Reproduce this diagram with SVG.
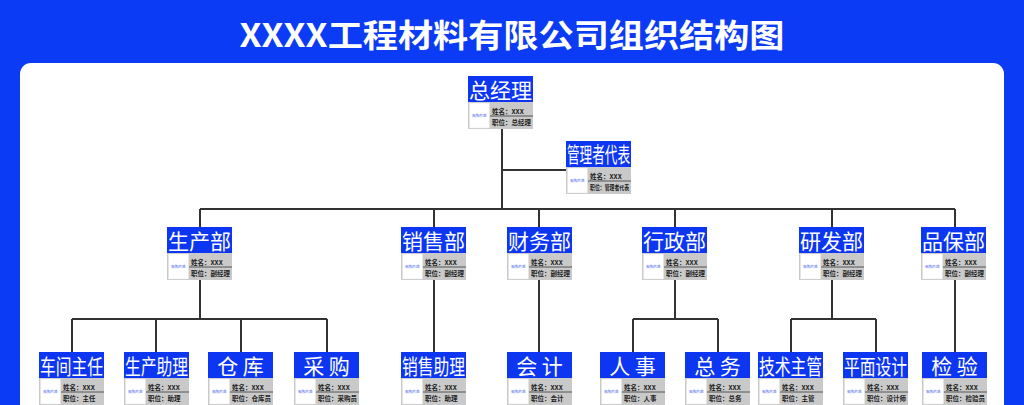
<svg xmlns="http://www.w3.org/2000/svg" width="1024" height="405" viewBox="0 0 1024 405">
<defs>
<style>
.bg{fill:#0b3bf5}
.panel{fill:#ffffff}
.hd{fill:#0d36f2}
.gr{fill:#c9c9c9}
.ph{fill:#ffffff;stroke:#e4e4e4;stroke-width:0.5}
.ht{fill:#ffffff;font-family:"Noto Sans CJK SC","Noto Sans",sans-serif;font-size:21px;text-anchor:middle}
.it{fill:#222222;font-family:"Noto Sans CJK SC","Noto Sans",sans-serif;font-size:6.5px;font-weight:700}
.pt{fill:#2a4cf0;font-family:"Noto Sans CJK SC",sans-serif;font-size:3.6px;text-anchor:middle}
.dv{stroke:#555555;stroke-width:1}
.ln{stroke:#333333;stroke-width:2;fill:none}
.title{fill:#ffffff;font-family:"Noto Sans CJK SC","Noto Sans",sans-serif;font-size:32px;font-weight:700;text-anchor:middle}
</style>
<g id="cardbase">
<rect class="hd" x="0" y="0" width="65" height="26"/>
<rect class="gr" x="0" y="26" width="65" height="27"/>
<rect class="ph" x="1.5" y="27" width="20" height="25"/>
<text class="pt" x="11.5" y="41">贴照片处</text>
<line class="dv" x1="22" y1="40" x2="65" y2="40"/>
<text class="it" x="24" y="37.5">姓名：XXX</text>
</g>
</defs>
<rect class="bg" x="0" y="0" width="1024" height="405"/>
<rect class="panel" x="20" y="63" width="984" height="360" rx="11"/>
<text class="title" x="512" y="47" textLength="545" lengthAdjust="spacingAndGlyphs">XXXX工程材料有限公司组织结构图</text>

<g id="connectors">
<path class="ln" d="M502 129 V209 M502 170 H566 M200 209 H955 M200 209 V228 M434 209 V228 M539 209 V228 M675 209 V228 M832 209 V228 M955 209 V228"/>
<path class="ln" d="M200 280 V319 M72 319 H327 M72 319 V352 M156 319 V352 M241 319 V352 M327 319 V352"/>
<path class="ln" d="M434 280 V352 M539 280 V352"/>
<path class="ln" d="M675 280 V319 M633 319 H718 M633 319 V352 M718 319 V352"/>
<path class="ln" d="M832 280 V319 M791 319 H876 M791 319 V352 M876 319 V352"/>
<path class="ln" d="M955 280 V352"/>
</g>

<g id="n-gm" transform="translate(468,76)"><use href="#cardbase"/><text class="ht" x="32.5" y="21.5">总经理</text><text class="it" x="24" y="49">职位：总经理</text></g>
<g id="n-rep" transform="translate(566,141)"><use href="#cardbase"/><text class="ht" x="32.5" y="21" font-size="18" textLength="63" lengthAdjust="spacingAndGlyphs">管理者代表</text><text class="it" x="24" y="49" font-size="5" textLength="39" lengthAdjust="spacingAndGlyphs">职位：管理者代表</text></g>

<g id="n-prod" transform="translate(167,227)"><use href="#cardbase"/><text class="ht" x="32.5" y="21.5">生产部</text><text class="it" x="24" y="49">职位：副经理</text></g>
<g id="n-sales" transform="translate(401,227)"><use href="#cardbase"/><text class="ht" x="32.5" y="21.5">销售部</text><text class="it" x="24" y="49">职位：副经理</text></g>
<g id="n-fin" transform="translate(507,227)"><use href="#cardbase"/><text class="ht" x="32.5" y="21.5">财务部</text><text class="it" x="24" y="49">职位：副经理</text></g>
<g id="n-admin" transform="translate(642,227)"><use href="#cardbase"/><text class="ht" x="32.5" y="21.5">行政部</text><text class="it" x="24" y="49">职位：副经理</text></g>
<g id="n-rd" transform="translate(799,227)"><use href="#cardbase"/><text class="ht" x="32.5" y="21.5">研发部</text><text class="it" x="24" y="49">职位：副经理</text></g>
<g id="n-qa" transform="translate(921,227)"><use href="#cardbase"/><text class="ht" x="32.5" y="21.5">品保部</text><text class="it" x="24" y="49">职位：副经理</text></g>

<g id="n-ws" transform="translate(39,352)"><use href="#cardbase"/><text class="ht" x="32.5" y="21.5" textLength="63" lengthAdjust="spacingAndGlyphs">车间主任</text><text class="it" x="24" y="49">职位：主任</text></g>
<g id="n-pa" transform="translate(124,352)"><use href="#cardbase"/><text class="ht" x="32.5" y="21.5" textLength="63" lengthAdjust="spacingAndGlyphs">生产助理</text><text class="it" x="24" y="49">职位：助理</text></g>
<g id="n-wh" transform="translate(208,352)"><use href="#cardbase"/><text class="ht" x="32.5" y="21.5">仓 库</text><text class="it" x="24" y="49">职位：仓库员</text></g>
<g id="n-pur" transform="translate(294,352)"><use href="#cardbase"/><text class="ht" x="32.5" y="21.5">采 购</text><text class="it" x="24" y="49">职位：采购员</text></g>
<g id="n-sa" transform="translate(401,352)"><use href="#cardbase"/><text class="ht" x="32.5" y="21.5" textLength="63" lengthAdjust="spacingAndGlyphs">销售助理</text><text class="it" x="24" y="49">职位：助理</text></g>
<g id="n-acc" transform="translate(507,352)"><use href="#cardbase"/><text class="ht" x="32.5" y="21.5">会 计</text><text class="it" x="24" y="49">职位：会计</text></g>
<g id="n-hr" transform="translate(600,352)"><use href="#cardbase"/><text class="ht" x="32.5" y="21.5">人 事</text><text class="it" x="24" y="49">职位：人事</text></g>
<g id="n-ga" transform="translate(685,352)"><use href="#cardbase"/><text class="ht" x="32.5" y="21.5">总 务</text><text class="it" x="24" y="49">职位：总务</text></g>
<g id="n-tech" transform="translate(758,352)"><use href="#cardbase"/><text class="ht" x="32.5" y="21.5" textLength="63" lengthAdjust="spacingAndGlyphs">技术主管</text><text class="it" x="24" y="49">职位：主管</text></g>
<g id="n-gd" transform="translate(843,352)"><use href="#cardbase"/><text class="ht" x="32.5" y="21.5" textLength="63" lengthAdjust="spacingAndGlyphs">平面设计</text><text class="it" x="24" y="49">职位：设计师</text></g>
<g id="n-insp" transform="translate(922,352)"><use href="#cardbase"/><text class="ht" x="32.5" y="21.5">检 验</text><text class="it" x="24" y="49">职位：检验员</text></g>
</svg>
